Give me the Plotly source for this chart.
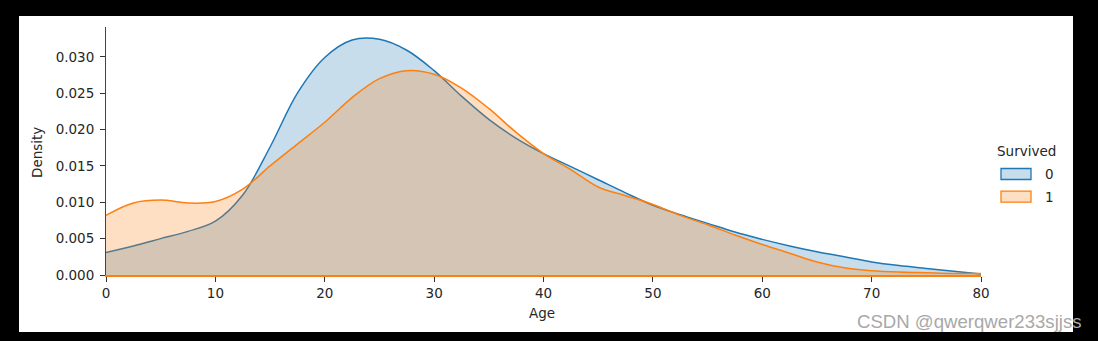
import plotly.graph_objects as go

# Kernel density of passenger age, split by survival outcome
age = [0, 2.5, 5, 7.5, 10, 12.5, 15, 17.5, 20, 22.5, 25, 27.5, 30, 32.5, 35, 37.5,
       40, 42.5, 45, 47.5, 50, 52.5, 55, 57.5, 60, 62.5, 65, 67.5, 70, 72.5, 75,
       77.5, 80]
dens_died = [0.0031, 0.0040, 0.0050, 0.0060, 0.0074, 0.0110, 0.0176, 0.0250, 0.0299,
             0.0323, 0.0324, 0.0309, 0.0281, 0.0246, 0.0214, 0.0188, 0.0167, 0.0149,
             0.0131, 0.0113, 0.0096, 0.0083, 0.0071, 0.0059, 0.0049, 0.0040, 0.0032,
             0.0025, 0.0018, 0.0013, 0.0009, 0.0005, 0.00015]
dens_surv = [0.0082, 0.0099, 0.0103, 0.0099, 0.0101, 0.0118, 0.0150, 0.0180, 0.0210,
             0.0244, 0.0270, 0.0281, 0.0276, 0.0257, 0.0229, 0.0196, 0.0167, 0.0145,
             0.0121, 0.0109, 0.0097, 0.0082, 0.0069, 0.0055, 0.0042, 0.0030, 0.0018,
             0.0010, 0.0006, 0.0004, 0.0003, 0.0002, 0.0002]

hue_levels = ["0", "1"]
line_colors = ["#1f77b4", "#ff7f0e"]
fill_colors = ["rgba(31,119,180,0.25)", "rgba(255,127,14,0.25)"]

x_ticks = [0, 10, 20, 30, 40, 50, 60, 70, 80]
y_ticks = [0.000, 0.005, 0.010, 0.015, 0.020, 0.025, 0.030]

W, H = 1098, 341
L, R, T, B = 106, 981, 27, 275          # plot area in pixels


def px(x):
    return (x - L) / (R - L)


def py(y):
    return (B - y) / (B - T)


font = "DejaVu Sans, Verdana, sans-serif"
text_col = "#262626"

fig = go.Figure()
for ys, lc, fc, name in zip([dens_died, dens_surv], line_colors, fill_colors, hue_levels):
    fig.add_trace(go.Scatter(
        x=age, y=ys, name=name, mode="lines",
        line=dict(color=lc, width=1.5, shape="spline", smoothing=1.0),
        fill="tozeroy", fillcolor=fc, showlegend=False, hoverinfo="x+y",
    ))

shapes = [
    # white figure panel on the dark page
    dict(type="rect", xref="paper", yref="paper", layer="below",
         x0=px(19), x1=px(1073), y0=py(332), y1=py(16),
         fillcolor="white", line=dict(width=0)),
]
annotations = [
    dict(text="Density", xref="paper", yref="paper", x=px(37), y=py(153),
         textangle=-90, showarrow=False, xanchor="center", yanchor="middle",
         font=dict(family=font, size=13.5, color=text_col)),
    dict(text="Age", xref="paper", yref="paper", x=px(542), y=py(313),
         showarrow=False, xanchor="center", yanchor="middle",
         font=dict(family=font, size=13.5, color=text_col)),
    dict(text="Survived", xref="paper", yref="paper", x=px(1026.5), y=py(151),
         showarrow=False, xanchor="center", yanchor="middle",
         font=dict(family=font, size=13.5, color=text_col)),
    dict(text="CSDN @qwerqwer233sjjss", xref="paper", yref="paper",
         x=px(855), y=py(321), showarrow=False, xanchor="left", yanchor="middle",
         font=dict(family="Liberation Sans, Arial, sans-serif", size=18.6,
                   color="#a8a8a8")),
]

# legend patches and labels
for i, (name, lc, fc) in enumerate(zip(hue_levels, line_colors, fill_colors)):
    top = 168.5 + i * 22.7
    shapes.append(dict(type="rect", xref="paper", yref="paper",
                       x0=px(1001), x1=px(1031), y0=py(top + 11), y1=py(top),
                       fillcolor=fc, line=dict(color=lc, width=1.3)))
    annotations.append(dict(text=name, xref="paper", yref="paper",
                            x=px(1043), y=py(top + 5.5), showarrow=False,
                            xanchor="left", yanchor="middle",
                            font=dict(family=font, size=13.5, color=text_col)))

fig.update_layout(
    width=W, height=H,
    margin=dict(l=L, r=W - R, t=T, b=H - B, pad=0),
    paper_bgcolor="black", plot_bgcolor="white",
    shapes=shapes, annotations=annotations, showlegend=False,
    font=dict(family=font, size=13.5, color=text_col),
)
fig.update_xaxes(
    range=[0, 80], tickvals=x_ticks, ticktext=[str(t) for t in x_ticks],
    showgrid=False, zeroline=False, showline=True, linecolor="#ff7f0e", linewidth=1.5,
    ticks="outside", ticklen=5, tickwidth=1, tickcolor="#333333",
    tickfont=dict(family=font, size=13.5, color=text_col),
)
fig.update_yaxes(
    range=[0, 0.0341], tickvals=y_ticks, ticktext=[f"{t:.3f}" for t in y_ticks],
    showgrid=False, zeroline=False, showline=True, linecolor="#444444", linewidth=1,
    ticks="outside", ticklen=5, tickwidth=1, tickcolor="#333333", ticklabelstandoff=3,
    tickfont=dict(family=font, size=13.5, color=text_col),
)

fig.write_html("out.html")
